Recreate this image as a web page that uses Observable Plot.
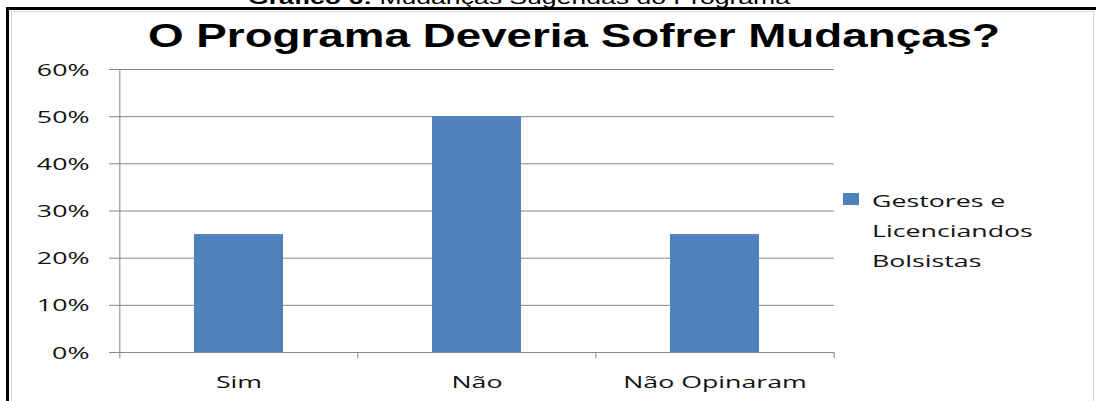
<!DOCTYPE html>
<html><head><meta charset="utf-8">
<script src="https://cdn.jsdelivr.net/npm/d3@7"></script>
<script src="https://cdn.jsdelivr.net/npm/@observablehq/plot@0.6"></script>
<style>
html,body{margin:0;padding:0;background:#fff;}
#wrap{position:relative;width:1096px;height:401px;overflow:hidden;background:#fff;}
#chart{position:absolute;left:0;top:0;}
#frame{position:absolute;left:6px;top:7px;width:1200px;height:500px;border-left:3px solid #000;border-top:3px solid #000;box-sizing:border-box;}
#inner{position:absolute;left:11px;top:11px;width:1083px;height:500px;border:1px solid #d9d9d9;box-sizing:border-box;}
#overlay{position:absolute;left:0;top:0;pointer-events:none;}
</style></head>
<body>
<div id="wrap"><div id="frame"></div><div id="inner"></div><div id="chart"></div><svg id="overlay" width="1096" height="401"></svg></div>
<script>
// ---- data ----
const categories = ["Sim", "Não", "Não Opinaram"];
const values = [0.25, 0.50, 0.25];
const yTicks = [0, 0.1, 0.2, 0.3, 0.4, 0.5, 0.6];
const legendLines = ["Gestores e", "Licenciandos", "Bolsistas"];
const title = "O Programa Deveria Sofrer Mudanças?";
const captionBold = "Gráfico 6:";
const captionText = " Mudanças Sugeridas do Programa";

// ---- layout ----
const W = 1096, H = 401, mL = 119, mR = 262, mT = 69, mB = 49;
const step = (W - mL - mR) / categories.length;
const grey = "#868686";
const blue = "#4f81bd";
const SX = 1.62;
const bodyFont = "'Open Sans', sans-serif";

const data = categories.map((c, i) => ({cat: c, value: values[i]}));

const plot = Plot.plot({
  width: W, height: H,
  marginLeft: mL, marginRight: mR, marginTop: mT, marginBottom: mB,
  style: {background: "transparent", fontFamily: bodyFont, fontSize: "16.5px", color: "#000", overflow: "visible"},
  x: {domain: categories, paddingInner: 0.627, paddingOuter: 0.3135, label: null},
  y: {domain: [0, 0.6], label: null},
  marks: [
    Plot.gridY(yTicks, {stroke: grey, strokeOpacity: 1}),
    Plot.barY(data, {x: "cat", y: "value", fill: blue}),
    Plot.ruleY([0], {stroke: grey}),
    Plot.ruleX([categories[0]], {x: d => d, y1: 0, y2: 0.6, dx: -step / 2, stroke: grey}),
    Plot.axisY({ticks: yTicks, tickFormat: d3.format(".0%"), tickSize: 10, tickPadding: 20, stroke: grey, fill: "#111", label: null}),
    Plot.axisX({tickSize: 6, tickFormat: () => "", dx: -step / 2, stroke: grey, label: null}),
    Plot.axisX({ticks: [categories[categories.length - 1]], tickSize: 6, tickFormat: () => "", dx: step / 2, stroke: grey, label: null}),
    Plot.axisX({tickSize: 0, tickPadding: 35, fill: "#111", label: null})
  ]
});
document.getElementById("chart").appendChild(plot);

function stretch(t, sx, dy) {
  const x = +t.getAttribute("x") || 0, y = +t.getAttribute("y") || 0;
  t.removeAttribute("x"); t.removeAttribute("y");
  const tr = t.getAttribute("transform") || "";
  t.setAttribute("transform", `${tr} translate(${x},${y + dy}) scale(${sx},1)`);
}
plot.querySelectorAll('g[aria-label="y-axis tick label"] text').forEach(t => stretch(t, SX, 6));
plot.querySelectorAll('g[aria-label="x-axis tick label"] text').forEach(t => stretch(t, SX, 0));

// ---- overlay texts: caption, title, legend ----
const ov = d3.select("#overlay");
const cap = ov.append("text")
  .attr("x", 248).attr("y", 4)
  .attr("font-family", "'Liberation Sans', Arial, sans-serif")
  .attr("font-size", 18).attr("fill", "#000")
  .attr("textLength", 542).attr("lengthAdjust", "spacingAndGlyphs");
cap.append("tspan").attr("font-weight", "bold").text(captionBold);
cap.append("tspan").text(captionText);

ov.append("text")
  .attr("x", 148).attr("y", 47)
  .attr("font-family", "'Liberation Sans', Arial, sans-serif")
  .attr("font-weight", "bold").attr("font-size", 33).attr("fill", "#000")
  .attr("textLength", 852).attr("lengthAdjust", "spacingAndGlyphs")
  .text(title);

ov.append("rect").attr("x", 843).attr("y", 193).attr("width", 16).attr("height", 12).attr("fill", blue);
legendLines.forEach((line, i) => {
  ov.append("text")
    .attr("font-family", bodyFont).attr("font-size", 16.5).attr("fill", "#111")
    .attr("transform", `translate(872,${207 + i * 30}) scale(${SX},1)`)
    .text(line);
});
</script>
</body></html>
